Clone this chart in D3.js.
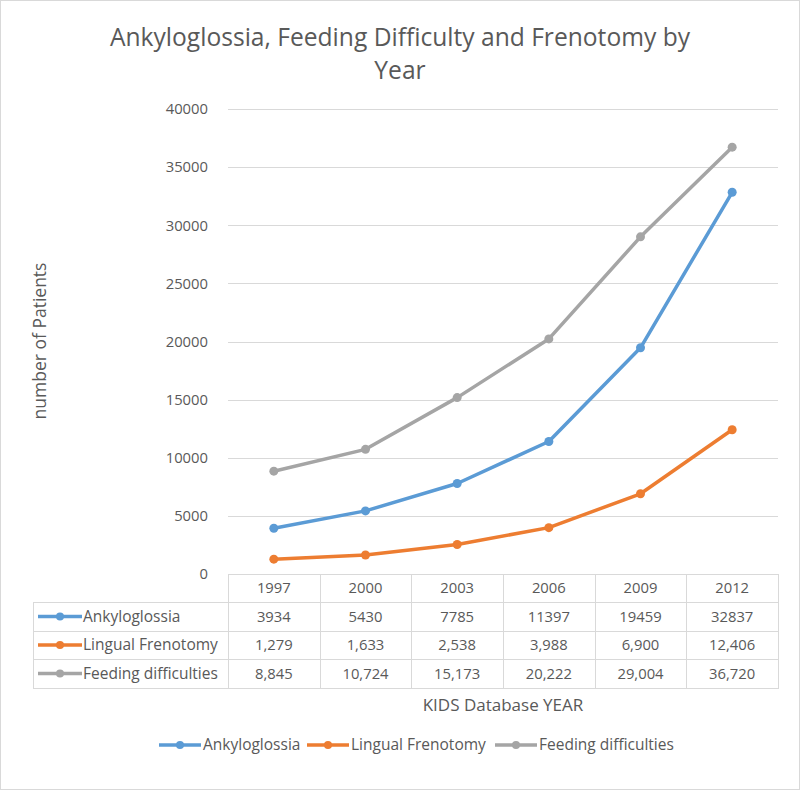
<!DOCTYPE html>
<html><head><meta charset="utf-8">
<script src="https://cdn.jsdelivr.net/npm/d3@7"></script>
<style>
html,body{margin:0;padding:0;background:#fff;}
svg{display:block;font-family:"Open Sans","Liberation Sans",Arial,sans-serif;}
</style></head>
<body><svg id="c" width="800" height="790"></svg>
<script>
const years = ["1997","2000","2003","2006","2009","2012"];
const seriesNames = ["Ankyloglossia","Lingual Frenotomy","Feeding difficulties"];
const ankyloglossia = [3934,5430,7785,11397,19459,32837];
const lingualFrenotomy = [1279,1633,2538,3988,6900,12406];
const feedingDifficulties = [8845,10724,15173,20222,29004,36720];
const tableLabels = [
  ["3934","5430","7785","11397","19459","32837"],
  ["1,279","1,633","2,538","3,988","6,900","12,406"],
  ["8,845","10,724","15,173","20,222","29,004","36,720"]
];
const yTicks = [0,5000,10000,15000,20000,25000,30000,35000,40000];
const colors = ["#5B9BD5","#ED7D31","#A5A5A5"];
const seriesData = [ankyloglossia, lingualFrenotomy, feedingDifficulties];

const svg = d3.select("#c");
const textColor = "#595959", gridColor = "#d9d9d9";
const fs = 14.8, fsText = 15.5;

svg.append("rect").attr("x",0.5).attr("y",0.5).attr("width",799).attr("height",789)
  .attr("fill","#fff").attr("stroke","#d9d9d9");

const x = d3.scaleBand().domain(years).range([228,778]);
const y = d3.scaleLinear().domain([0,40000]).range([574,109]);
const cx = d => x(d) + x.bandwidth()/2;

// title
const title = svg.append("text").attr("text-anchor","middle").attr("fill",textColor)
  .attr("font-size",24.6);
title.append("tspan").attr("x",400).attr("y",46).text("Ankyloglossia, Feeding Difficulty and Frenotomy by");
title.append("tspan").attr("x",400).attr("y",79).text("Year");

// gridlines
svg.append("g").selectAll("line").data(yTicks.filter(t=>t>0)).join("line")
  .attr("x1",228).attr("x2",778).attr("y1",d=>Math.round(y(d))+0.5).attr("y2",d=>Math.round(y(d))+0.5)
  .attr("stroke",gridColor).attr("stroke-width",1);

// y axis labels
const yAxis = d3.axisLeft(y).tickValues(yTicks).tickSize(0).tickPadding(0).tickFormat(d3.format("d"));
const yg = svg.append("g").attr("transform","translate(208,0)").call(yAxis);
yg.select(".domain").remove();
yg.selectAll("text").attr("fill",textColor).attr("font-size",fs)
  .attr("font-family","Open Sans, Liberation Sans, Arial, sans-serif");

// y axis title
svg.append("text").attr("transform","translate(46,341) rotate(-90)").attr("text-anchor","middle")
  .attr("fill",textColor).attr("font-size",17.5).text("number of Patients");

// table
const rowY = [574,602,631,659,688];
const tg = svg.append("g");
tg.append("rect").attr("x",228.5).attr("y",574.5).attr("width",550).attr("height",rowY[4]-574)
  .attr("fill","none").attr("stroke",gridColor);
tg.append("rect").attr("x",33.5).attr("y",rowY[1]+0.5).attr("width",745).attr("height",rowY[4]-rowY[1])
  .attr("fill","none").attr("stroke",gridColor);
[rowY[2],rowY[3]].forEach(r=>tg.append("line").attr("x1",33).attr("x2",778).attr("y1",r+0.5).attr("y2",r+0.5).attr("stroke",gridColor));
tg.append("line").attr("x1",228.5).attr("x2",228.5).attr("y1",rowY[1]).attr("y2",rowY[4]).attr("stroke",gridColor);
years.slice(1).forEach(yr=>tg.append("line").attr("x1",Math.round(x(yr))+0.5).attr("x2",Math.round(x(yr))+0.5)
  .attr("y1",574).attr("y2",rowY[4]).attr("stroke",gridColor));
tg.selectAll("text.hdr").data(years).join("text").attr("class","hdr")
  .attr("x",d=>cx(d)).attr("y",(rowY[0]+rowY[1])/2+5).attr("text-anchor","middle")
  .attr("fill",textColor).attr("font-size",fs).text(d=>d);
tableLabels.forEach((row,i)=>{
  const ym = (rowY[i+1]+rowY[i+2])/2;
  tg.append("line").attr("x1",38).attr("x2",82).attr("y1",ym).attr("y2",ym)
    .attr("stroke",colors[i]).attr("stroke-width",3.5);
  tg.append("circle").attr("cx",60).attr("cy",ym).attr("r",4).attr("fill",colors[i]);
  tg.append("text").attr("x",83).attr("y",ym+5).attr("fill",textColor).attr("font-size",fsText).text(seriesNames[i]);
  tg.selectAll(null).data(row).join("text")
    .attr("x",(d,j)=>cx(years[j])).attr("y",ym+5).attr("text-anchor","middle")
    .attr("fill",textColor).attr("font-size",fs).text(d=>d);
});

// x axis title
svg.append("text").attr("x",503).attr("y",711).attr("text-anchor","middle")
  .attr("fill",textColor).attr("font-size",17).text("KIDS Database YEAR");

// lines
const line = d3.line().x((d,i)=>cx(years[i])).y(d=>y(d));
seriesData.forEach((s,i)=>{
  svg.append("path").datum(s).attr("d",line).attr("fill","none")
    .attr("stroke",colors[i]).attr("stroke-width",3.5).attr("stroke-linejoin","round").attr("stroke-linecap","round");
  svg.append("g").selectAll("circle").data(s).join("circle")
    .attr("cx",(d,j)=>cx(years[j])).attr("cy",d=>y(d)).attr("r",4.5).attr("fill",colors[i]);
});

// legend
const legX = [159,307,495];
seriesNames.forEach((n,i)=>{
  const ly = 745;
  svg.append("line").attr("x1",legX[i]).attr("x2",legX[i]+42).attr("y1",ly).attr("y2",ly)
    .attr("stroke",colors[i]).attr("stroke-width",3.5);
  svg.append("circle").attr("cx",legX[i]+21).attr("cy",ly).attr("r",4).attr("fill",colors[i]);
  svg.append("text").attr("x",legX[i]+44).attr("y",ly+5).attr("fill",textColor).attr("font-size",fsText).text(n);
});
</script></body></html>
